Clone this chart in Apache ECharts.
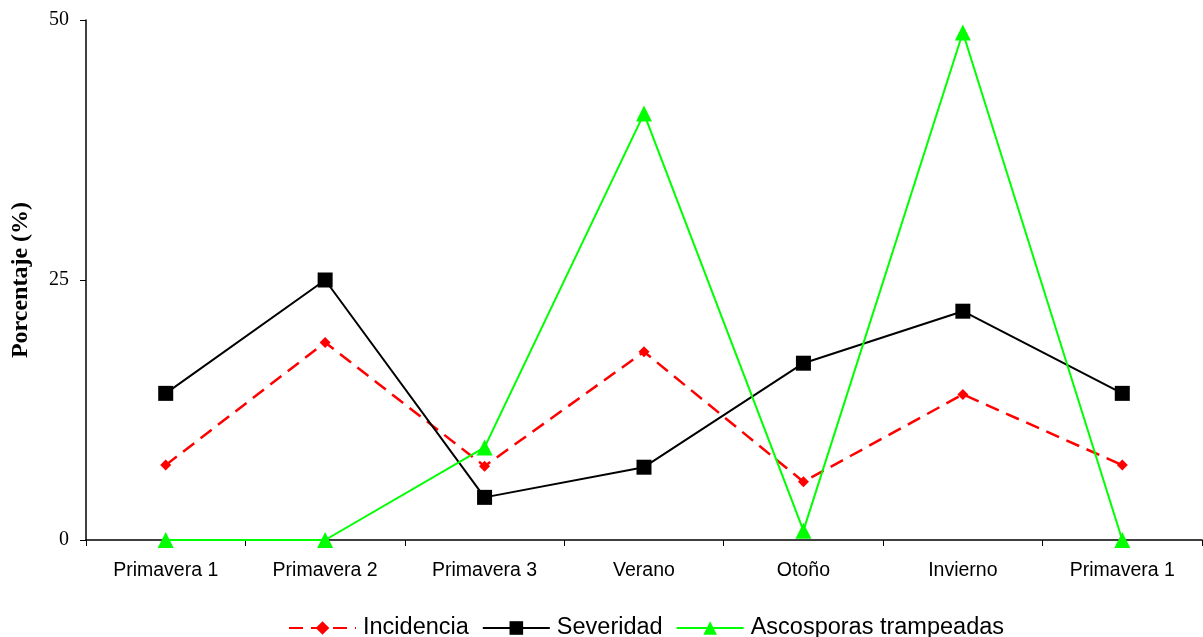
<!DOCTYPE html>
<html>
<head>
<meta charset="utf-8">
<script src="https://cdn.jsdelivr.net/npm/echarts@6/dist/echarts.min.js"></script>
<style>
  html, body { margin: 0; padding: 0; background: #fff; }
  #chart { width: 1203px; height: 637px; }
</style>
</head>
<body>
<div id="chart"></div>
<script>
const categories = ['Primavera 1', 'Primavera 2', 'Primavera 3', 'Verano', 'Otoño', 'Invierno', 'Primavera 1'];
const incidencia = [7.2, 19.0, 7.1, 18.1, 5.6, 14.0, 7.2];
const severidad = [14.1, 25.0, 4.1, 7.0, 17.0, 22.0, 14.1];
const ascosporas = [0, 0, 8.9, 41.0, 0.9, 48.8, 0];
const yTicks = [0, 25, 50];

const chart = echarts.init(document.getElementById('chart'), null, { renderer: 'canvas' });

chart.setOption({
  animation: false,
  backgroundColor: '#fff',
  grid: { left: 86, right: 1, top: 20, bottom: 97, containLabel: false },
  legend: {
    top: 611,
    left: 283,
    itemWidth: 67,
    itemHeight: 17,
    itemGap: 13,
    textStyle: { fontFamily: 'Liberation Sans, Arial, sans-serif', fontSize: 23.5, color: '#000', padding: [0, 0, 0, 2] },
    data: ['Incidencia', 'Severidad', 'Ascosporas trampeadas']
  },
  xAxis: {
    type: 'category',
    data: categories,
    boundaryGap: true,
    axisLine: { lineStyle: { color: '#000', width: 1.5 } },
    axisTick: { show: true, length: 6, lineStyle: { color: '#000' } },
    axisLabel: { fontFamily: 'Liberation Sans, Arial, sans-serif', fontSize: 19.5, color: '#000', margin: 21, interval: 0 }
  },
  yAxis: {
    type: 'value',
    min: yTicks[0],
    max: yTicks[yTicks.length - 1],
    interval: 25,
    name: 'Porcentaje (%)',
    nameLocation: 'middle',
    nameGap: 53,
    nameTextStyle: { fontFamily: 'Liberation Serif, Times New Roman, serif', fontSize: 24, fontWeight: 'bold', color: '#000' },
    splitLine: { show: false },
    axisLine: { show: true, lineStyle: { color: '#000', width: 1.5 } },
    axisTick: { show: true, length: 6, inside: false, lineStyle: { color: '#000' } },
    axisLabel: { fontFamily: 'Liberation Serif, Times New Roman, serif', fontSize: 20, color: '#000', margin: 17 }
  },
  series: [
    {
      name: 'Incidencia',
      type: 'line',
      data: incidencia,
      symbol: 'diamond',
      symbolSize: 11,
      itemStyle: { color: '#ff0000' },
      lineStyle: { color: '#ff0000', width: 2.5, type: [14, 8] },
      z: 3
    },
    {
      name: 'Severidad',
      type: 'line',
      data: severidad,
      symbol: 'rect',
      symbolSize: 15,
      itemStyle: { color: '#000' },
      lineStyle: { color: '#000', width: 2 },
      z: 4
    },
    {
      name: 'Ascosporas trampeadas',
      type: 'line',
      data: ascosporas,
      symbol: 'triangle',
      symbolSize: 16,
      itemStyle: { color: '#00ff00' },
      lineStyle: { color: '#00ff00', width: 2 },
      z: 5
    }
  ]
});
</script>
</body>
</html>
